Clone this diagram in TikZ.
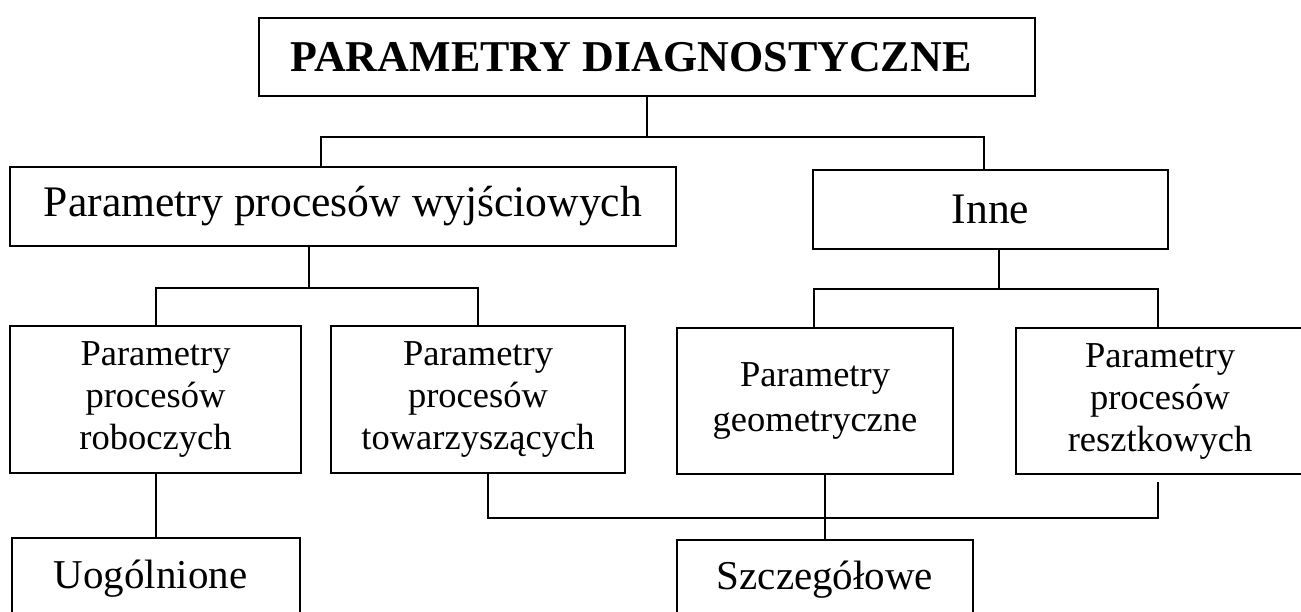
\documentclass[tikz,border=0pt]{standalone}
\usepackage{fontspec}
\setmainfont{Liberation Serif}
\begin{document}
\begin{tikzpicture}[x=1pt,y=-1pt,
  box/.style={draw=black, line width=2pt, rectangle, inner sep=0pt, fill=white},
  link/.style={draw=black, line width=2pt},
  topfont/.style={font=\fontsize{44}{48}\selectfont\bfseries},
  midfont/.style={font=\fontsize{43.6}{48}\selectfont},
  lowfont/.style={font=\fontsize{36.5}{42}\selectfont, align=center},
  endfont/.style={font=\fontsize{41}{46}\selectfont}]
\useasboundingbox (0,0) rectangle (1301,612);
\clip (0,0) rectangle (1301,612);

% root
\node[box, topfont, minimum width=776pt, minimum height=78pt] (title) at (647,57)
  {PARAMETRY DIAGNOSTYCZNE\hspace*{32pt}};

% first level
\node[box, midfont, minimum width=666pt, minimum height=79pt] (wyj) at (343,206.5)
  {Parametry procesów wyjściowych};
\node[box, midfont, minimum width=355pt, minimum height=79pt] (inne) at (990.5,209.5)
  {Inne};

% second level
\node[box, lowfont, minimum width=291pt, minimum height=147pt] (rob) at (155.5,399.5)
  {Parametry\\procesów\\roboczych};
\node[box, lowfont, minimum width=294pt, minimum height=147pt] (tow) at (478,399.5)
  {Parametry\\procesów\\towarzyszących};
\node[box, font=\fontsize{36.5}{45}\selectfont, align=center, minimum width=276pt, minimum height=146pt] (geo) at (815,401)
  {Parametry\\geometryczne};
\node[box, lowfont, minimum width=288pt, minimum height=146pt] (res) at (1160,401)
  {Parametry\\procesów\\resztkowych};

% third level (running off the lower edge)
\node[box, endfont, anchor=north, minimum width=288pt, text height=50pt, text depth=80pt] (uog) at (156,537)
  {\hspace*{-11pt}Uogólnione};
\node[box, endfont, anchor=north, minimum width=296pt, text height=49pt, text depth=80pt] (szcz) at (825,539)
  {Szczegółowe};

% bus under the root
\coordinate (t1) at (647,137);
\coordinate (tL) at (321,137);
\coordinate (tR) at (984,137);
\draw[link] (title.south) -- (t1);
\draw[link] (tL |- wyj.north) -- (tL) -- (tR) -- (tR |- inne.north);

% bus under the left branch
\coordinate (w1) at (309,288);
\draw[link] (w1 |- wyj.south) -- (w1);
\draw[link] (rob.north) |- (w1) -| (tow.north);

% bus under "Inne"
\coordinate (i1) at (999,289);
\coordinate (iL) at (814,289);
\coordinate (iR) at (1158,289);
\draw[link] (i1 |- inne.south) -- (i1);
\draw[link] (iL |- geo.north) -- (iL) -- (iR) -- (iR |- res.north);

% links to the lowest level
\draw[link] (rob.south) -- (rob.south |- uog.north);
\draw[link] (szcz.north |- geo.south) -- (szcz.north);

\coordinate (b1) at (488,518);
\coordinate (b2) at (1158,518);
\coordinate (b3) at (1158,482);
\draw[link] (b1 |- tow.south) -- (b1) -- (b2) -- (b3);
\end{tikzpicture}
\end{document}
